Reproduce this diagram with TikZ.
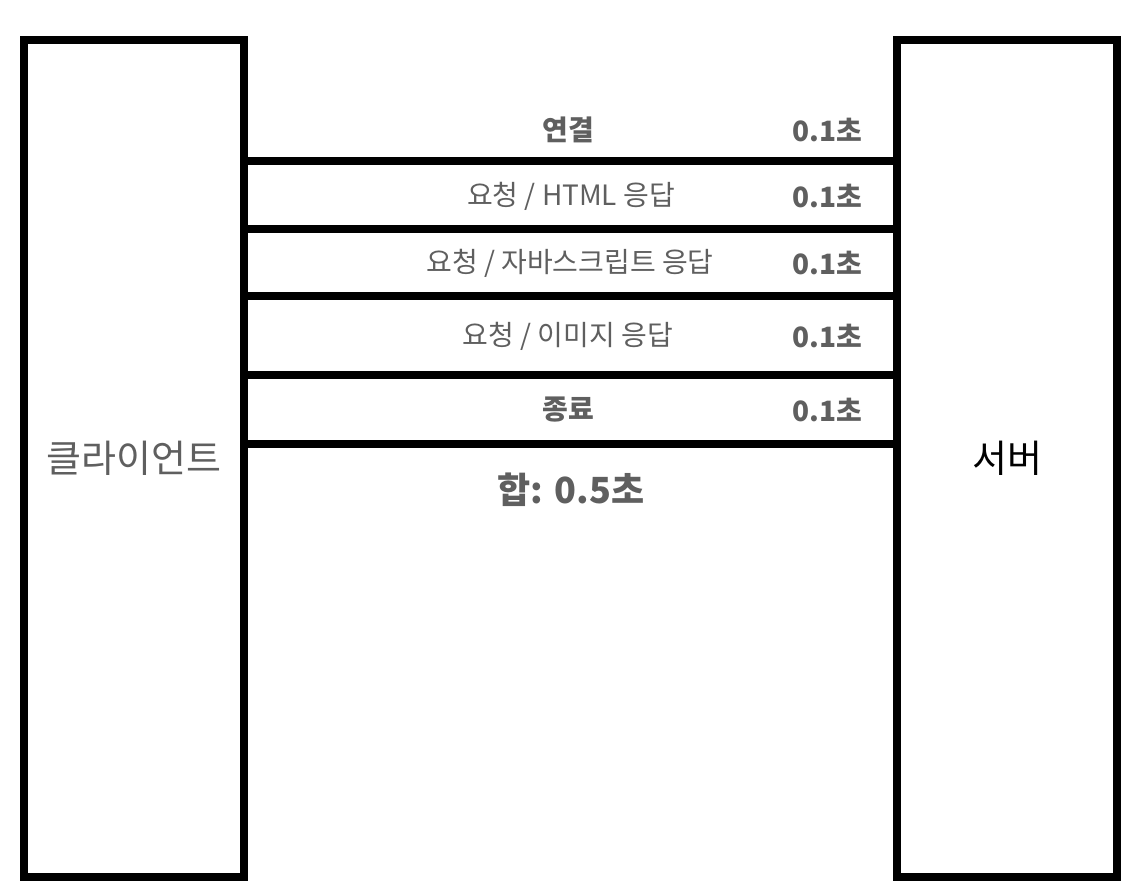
\documentclass[tikz,border=0pt]{standalone}
\usepackage{fontspec}
\setmainfont{Noto Sans CJK KR}
\usepackage{tikz}
\usetikzlibrary{positioning,calc}
\definecolor{labelgray}{HTML}{5F5F5F}

\begin{document}
\begin{tikzpicture}[
  x=1pt, y=-1pt,
  host/.style={draw, line width=8pt, minimum width=220pt, minimum height=837pt,
    inner sep=0pt, font=\fontsize{38}{42}\selectfont},
  link/.style={line width=8pt},
  steptext/.style={font=\fontsize{28}{32}\selectfont, text=labelgray},
  timetext/.style={font=\bfseries\fontsize{28}{32}\selectfont, text=labelgray}
]
  \useasboundingbox (0,0) rectangle (1148,888);

  % The two hosts
  \node[host, text=labelgray] (client) at (134,458.5) {클라이언트};
  \node[host] (server) at (1007,458.5) {서버};

  % Separating lines between the hosts
  \foreach \y/\name in {161/a, 229/b, 296/c, 375/d, 444/e} {
    \coordinate (h\name) at (0,\y);
    \draw[link] (client.east |- h\name) -- (server.west |- h\name);
  }

  % Steps
  \node[timetext] (connect) at (568,130) {연결};
  \node[steptext] (html) at (571,196) {요청 / HTML 응답};
  \node[steptext] (js) at (570,263) {요청 / 자바스크립트 응답};
  \node[steptext] (img) at (568,336) {요청 / 이미지 응답};
  \node[timetext] (close) at (568,410) {종료};

  % Times
  \foreach \y/\name in {130/ta, 196/tb, 263/tc, 336/td, 410/te}
    \node[timetext] (\name) at (827,\y) {0.1초};

  % Total
  \node[timetext, font=\bfseries\fontsize{36}{40}\selectfont] (total) at (571,490) {합: 0.5초};
\end{tikzpicture}
\end{document}
